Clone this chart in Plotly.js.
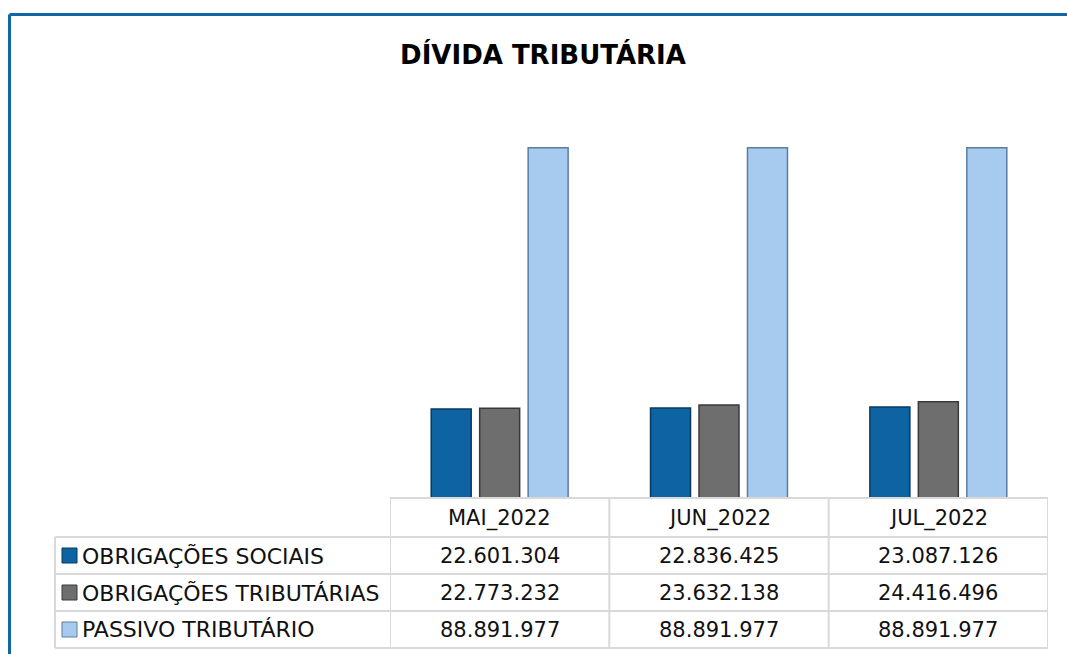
<!DOCTYPE html>
<html>
<head>
<meta charset="utf-8">
<script src="https://cdn.plot.ly/plotly-3.0.1.min.js"></script>
<style>html,body{margin:0;padding:0;background:#fff}#chart{width:1067px;height:654px}</style>
</head>
<body>
<div id="chart"></div>
<script>
const categories = ["MAI_2022", "JUN_2022", "JUL_2022"];
const seriesNames = ["OBRIGAÇÕES SOCIAIS", "OBRIGAÇÕES TRIBUTÁRIAS", "PASSIVO TRIBUTÁRIO"];
const obrigacoesSociais = [22601304, 22836425, 23087126];
const obrigacoesTributarias = [22773232, 23632138, 24416496];
const passivoTributario = [88891977, 88891977, 88891977];
const seriesValues = [obrigacoesSociais, obrigacoesTributarias, passivoTributario];
const seriesColors = ["#0e64a2", "#6e6e6e", "#a7cbef"];
const seriesLines = ["#073a60", "#3a3a3a", "#5d7d9e"];

const W = 1067, H = 654;
const px = x => x / W;
const py = y => (H - y) / H;

function fmt(v) {
  return String(v).replace(/\B(?=(\d{3})+(?!\d))/g, ".");
}

const traces = seriesValues.map((vals, i) => ({
  type: "bar",
  x: categories,
  y: vals,
  name: seriesNames[i],
  marker: { color: seriesColors[i], line: { color: seriesLines[i], width: 1.5 } },
  hoverinfo: "x+y+name",
  showlegend: false
}));

const grid = "#d9d9d9";
const shapes = [];
const annotations = [];

// outer frame (top & left blue border)
shapes.push({ type: "line", xref: "paper", yref: "paper", x0: px(9.5), x1: px(1067), y0: py(14.5), y1: py(14.5), line: { color: "#0f67a5", width: 3 } });
shapes.push({ type: "line", xref: "paper", yref: "paper", x0: px(9.5), x1: px(9.5), y0: py(14.5), y1: py(654), line: { color: "#0f67a5", width: 3 } });

// table horizontal lines
const rowYs = [537, 574, 611, 648];
shapes.push({ type: "line", xref: "x", yref: "paper", x0: -0.5, x1: 2.5, y0: py(498), y1: py(498), line: { color: grid, width: 2 } });
rowYs.forEach(y => shapes.push({ type: "line", xref: "paper", yref: "paper", x0: px(55), x1: px(1048), y0: py(y), y1: py(y), line: { color: grid, width: 2 } }));
// vertical lines
shapes.push({ type: "line", xref: "paper", yref: "paper", x0: px(55), x1: px(55), y0: py(537), y1: py(648), line: { color: grid, width: 2 } });
[-0.5, 0.5, 1.5, 2.5].forEach(x => shapes.push({ type: "line", xref: "x", yref: "paper", x0: x, x1: x, y0: py(498), y1: py(648), line: { color: grid, width: 2 } }));

const numFont = { family: "'DejaVu Sans', sans-serif", size: 21, color: "#111" };
const labFont = { family: "'DejaVu Sans', sans-serif", size: 22, color: "#111" };

// header cells
categories.forEach(c => annotations.push({ xref: "x", yref: "paper", x: c, y: py(518), text: c, showarrow: false, font: numFont, xanchor: "center", yanchor: "middle" }));

// rows
const rowCenters = [555.5, 592.5, 629.5];
seriesNames.forEach((n, i) => {
  const yc = rowCenters[i];
  shapes.push({ type: "rect", xref: "paper", yref: "paper", x0: px(62), x1: px(77), y0: py(yc - 7.5), y1: py(yc + 7.5), fillcolor: seriesColors[i], line: { color: seriesLines[i], width: 1 } });
  annotations.push({ xref: "paper", yref: "paper", x: px(80), y: py(yc), text: n, showarrow: false, font: labFont, xanchor: "left", yanchor: "middle" });
  categories.forEach((c, j) => annotations.push({ xref: "x", yref: "paper", x: c, y: py(yc), text: fmt(seriesValues[i][j]), showarrow: false, font: numFont, xanchor: "center", yanchor: "middle" }));
});

const layout = {
  width: W, height: H,
  margin: { l: 0, r: 0, t: 0, b: 0 },
  paper_bgcolor: "#ffffff",
  plot_bgcolor: "rgba(0,0,0,0)",
  title: { text: "<b>DÍVIDA TRIBUTÁRIA</b>", x: px(543), xanchor: "center", y: py(55), yanchor: "middle", font: { family: "'DejaVu Sans', sans-serif", size: 26, color: "#000" } },
  barmode: "group",
  bargap: 0.337,
  bargroupgap: 0.175,
  xaxis: { domain: [px(390), px(1048)], showticklabels: false, showgrid: false, zeroline: false, showline: false, ticks: "", range: [-0.5, 2.5], type: "category" },
  yaxis: { domain: [py(498), py(104)], range: [0, 100000000], showticklabels: false, showgrid: false, zeroline: false, showline: false, ticks: "" },
  shapes: shapes,
  annotations: annotations,
  showlegend: false
};

Plotly.newPlot("chart", traces, layout, { displayModeBar: false, staticPlot: false });
</script>
</body>
</html>
